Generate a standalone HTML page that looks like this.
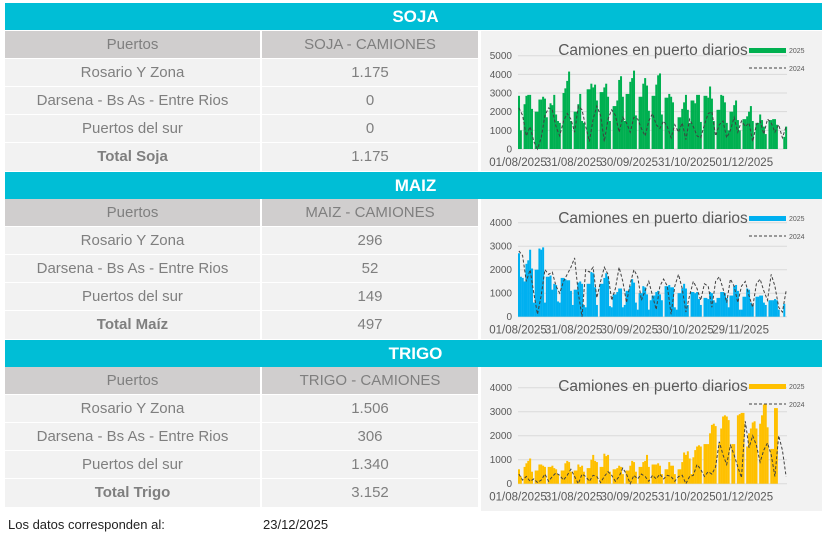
<!DOCTYPE html>
<html><head><meta charset="utf-8">
<style>
body{margin:0;width:826px;height:542px;background:#fff;position:relative;overflow:hidden;font-family:"Liberation Sans",sans-serif}
.a{position:absolute;box-sizing:border-box}
.ban{left:5px;width:817px;height:27px;background:#00bed6;color:#fff;font-weight:bold;font-size:17px;text-align:center;line-height:27px;padding-left:4px}
.cell{height:27px;line-height:27px;text-align:center;font-size:15px;color:#7f7f7f;background:#f2f2f2}
.hd{background:#d0cece}
.c1{left:5px;width:255px}.c2{left:262px;width:216px}
.b{font-weight:bold}
.chart{left:481px;width:341px;background:#f2f2f2}
</style></head><body>
<div class="a ban" style="top:3px">SOJA</div>
<div class="a ban" style="top:172px">MAIZ</div>
<div class="a ban" style="top:340px">TRIGO</div>

<div class="a cell hd c1" style="top:31px">Puertos</div>
<div class="a cell hd c2" style="top:31px">SOJA - CAMIONES</div>
<div class="a cell c1" style="top:59px">Rosario Y Zona</div>
<div class="a cell c2" style="top:59px">1.175</div>
<div class="a cell c1" style="top:87px">Darsena - Bs As - Entre Rios</div>
<div class="a cell c2" style="top:87px">0</div>
<div class="a cell c1" style="top:115px">Puertos del sur</div>
<div class="a cell c2" style="top:115px">0</div>
<div class="a cell c1 b" style="top:143px;height:28px">Total Soja</div>
<div class="a cell c2" style="top:143px;height:28px">1.175</div>

<div class="a cell hd c1" style="top:199px">Puertos</div>
<div class="a cell hd c2" style="top:199px">MAIZ - CAMIONES</div>
<div class="a cell c1" style="top:227px">Rosario Y Zona</div>
<div class="a cell c2" style="top:227px">296</div>
<div class="a cell c1" style="top:255px">Darsena - Bs As - Entre Rios</div>
<div class="a cell c2" style="top:255px">52</div>
<div class="a cell c1" style="top:283px">Puertos del sur</div>
<div class="a cell c2" style="top:283px">149</div>
<div class="a cell c1 b" style="top:311px;height:28px">Total Maíz</div>
<div class="a cell c2" style="top:311px;height:28px">497</div>

<div class="a cell hd c1" style="top:367px">Puertos</div>
<div class="a cell hd c2" style="top:367px">TRIGO - CAMIONES</div>
<div class="a cell c1" style="top:395px">Rosario Y Zona</div>
<div class="a cell c2" style="top:395px">1.506</div>
<div class="a cell c1" style="top:423px">Darsena - Bs As - Entre Rios</div>
<div class="a cell c2" style="top:423px">306</div>
<div class="a cell c1" style="top:451px">Puertos del sur</div>
<div class="a cell c2" style="top:451px">1.340</div>
<div class="a cell c1 b" style="top:479px;height:28px">Total Trigo</div>
<div class="a cell c2" style="top:479px;height:28px">3.152</div>

<div class="a" style="left:8px;top:517px;font-size:13px;color:#222">Los datos corresponden al:</div>
<div class="a" style="left:263px;top:517px;font-size:13px;color:#222">23/12/2025</div>

<svg class="a chart" id="ch1" style="top:31px;height:140px" viewBox="481 31 341 140"></svg>
<svg class="a chart" id="ch2" style="top:199px;height:140px" viewBox="481 199 341 140"></svg>
<svg class="a chart" id="ch3" style="top:367px;height:144px" viewBox="481 367 341 144"></svg>

<script>
const sojaLabels=["01/08/2025","31/08/2025","30/09/2025","31/10/2025","01/12/2025"];
const sojaLabelDays=[0,30,60,91,122];
const sojaTicks=[0,1000,2000,3000,4000,5000];
const soja2025=[2850,1000,0,
2400,2850,2900,2900,2150,0,2000,
2000,2650,2650,2800,2700,1700,0,
2450,2350,2900,1850,1500,1400,0,
3000,3250,3650,4150,1500,0,2000,
2000,2400,2950,1500,1400,0,3200,
3200,3500,3300,3450,2600,0,3050,
3050,3300,3500,2800,1500,0,2300,
2300,2600,3700,3900,2800,1500,2950,
2950,3600,3800,4200,1800,0,2800,
2800,3500,3800,3400,2050,0,2850,
2850,3450,3950,4050,1850,0,2750,
2750,2950,2800,2500,0,0,1700,
1700,2150,2500,2900,2100,1400,2600,
2600,2450,2900,2900,1450,0,2850,
2850,2750,3350,2700,1500,0,2100,
2100,2900,2850,2500,1400,1000,2000,
2000,2350,2600,1550,1000,0,1600,
1600,1750,2000,2300,1500,0,1400,
1400,1850,1550,1200,800,0,1550,
1550,1600,1600,1300,0,0,0,
650,1200];
const soja2024=[2200,1800,700,1200,400,0,600,1800,2200,2100,1200,700,1500,1900,1600,900,2300,2100,1200,400,1600,2300,1800,400,1600,2100,1800,900,1700,1400,900,1700,1600,1100,700,1500,1900,1300,1100,1500,1200,600,1300,900,1400,500,1600,1200,700,600,1300,1900,2000,700,1300,1500,600,1000,1700,900,1500,1200,1400,400,1300,1500,800,1600,1400,900,1300,600,1200];

const maizLabels=["01/08/2025","31/08/2025","30/09/2025","30/10/2025","29/11/2025"];
const maizLabelDays=[0,30,60,90,120];
const maizTicks=[0,1000,2000,3000,4000];
const maiz2025=[2700,1700,1650,
1500,2250,2400,2850,2050,600,2000,
2000,2900,2850,2950,600,1700,1700,
1750,1150,1400,1350,650,600,1650,
1650,1600,1550,1550,1100,500,1150,
1150,1450,1500,1400,500,400,1400,
1400,1900,1850,1250,500,0,1400,
1400,1650,1850,1700,450,400,950,
950,1050,1200,1200,400,500,1100,
1100,1300,1600,1450,600,300,1000,
1000,1300,1250,950,300,700,900,
900,1050,1100,950,700,0,1300,
1300,1350,1250,1250,400,300,1000,
1000,1200,1400,1200,500,0,1050,
1050,1000,1050,750,500,0,800,
800,750,1050,1000,700,600,800,
800,1050,1050,1000,800,400,900,
900,1300,1350,1100,300,300,850,
850,1200,1150,600,500,0,850,
850,900,900,600,500,0,700,
700,700,750,700,300,0,0,
550,0];
const maiz2024=[2800,2600,1500,2000,1000,100,900,2000,1800,1900,1300,1000,1500,1800,2100,2500,1000,0,2000,1900,2100,800,1500,2100,1800,700,1200,2100,1500,600,1400,2000,1700,700,1100,1500,900,300,1300,1600,1300,100,1300,1800,1200,200,900,1500,1200,700,1400,1300,400,1500,1700,1200,600,1600,1300,600,1300,1500,900,400,1400,1600,1100,700,1800,1300,400,200,1100];

const trigoLabels=["01/08/2025","31/08/2025","30/09/2025","31/10/2025","01/12/2025"];
const trigoLabelDays=[0,30,60,91,122];
const trigoTicks=[0,1000,2000,3000,4000];
const trigo2025=[600,300,0,
700,850,950,1050,500,0,550,
550,800,800,750,700,0,700,
700,750,650,600,400,0,550,
550,850,950,900,500,0,550,
550,800,700,750,500,0,650,
650,1000,1200,950,900,0,700,
700,1250,1150,1200,500,0,600,
600,650,750,700,400,0,550,
550,750,950,900,500,0,700,
700,900,950,1200,700,0,800,
800,800,850,750,400,0,600,
600,900,750,750,400,0,600,
600,900,1300,1200,1350,1050,400,1100,1400,1550,
1600,1550,0,1650,1650,1650,2100,2450,2500,2400,
0,1700,2300,2800,2850,2800,2650,0,1650,1650,
0,2850,2900,2950,2950,0,1550,2100,2300,2550,
2600,2300,0,2500,2850,3300,3300,2350,0,1450,
1450,3150,3150,0,0,0,0,0];
const trigo2024=[400,150,300,100,200,50,150,400,100,300,450,350,150,350,600,300,0,400,300,100,350,300,50,300,500,350,100,300,650,400,0,350,200,400,300,100,350,200,400,200,350,300,100,300,350,0,300,350,800,600,300,500,400,700,1750,1200,800,1600,1200,700,250,2600,1500,2000,1600,900,1400,1700,1200,300,2000,1400,300];

const NS='http://www.w3.org/2000/svg';
function mk(svg,tag,attrs){const e=document.createElementNS(NS,tag);for(const k in attrs)e.setAttribute(k,attrs[k]);svg.appendChild(e);return e;}
function draw(id,prefix,v25,v24,ticks,labels,labelDays,color,yZero,yTop,top){
  const svg=document.getElementById(id);
  const N=145,x0=518,x1=787,dw=(x1-x0)/N,ymax=ticks[ticks.length-1];
  const X=d=>x0+d*dw;
  const Y=v=>yZero-(v/ymax)*(yZero-yTop);
  ticks.forEach(t=>{
    const g=mk(svg,'line',{x1:x0,x2:x1,y1:Y(t),y2:Y(t),stroke:'#d9d9d9','stroke-width':1});
    
    
    const tl=mk(svg,'text',{x:512,y:Y(t)+3.5,'text-anchor':'end','font-size':10,fill:'#595959','font-family':'Liberation Sans, sans-serif'});
    tl.textContent=t;
    
    
  });
  v25.forEach((v,i)=>{
    if(v<=0)return;
    const r=mk(svg,'rect',{x:X(i),y:Y(v),width:dw+0.15,height:yZero-Y(v),fill:color});
    
    
  });
  const pts=v24.map((v,i)=>X(i*2+0.5).toFixed(1)+','+Y(v).toFixed(1)).join(' ');
  const pl=mk(svg,'polyline',{points:pts,fill:'none',stroke:'#404040','stroke-width':1,'stroke-dasharray':'3,2'});
  
  
  labels.forEach((l,i)=>{
    const t=mk(svg,'text',{x:X(labelDays[i]),y:yZero+17,'text-anchor':'middle','font-size':11.5,fill:'#595959','font-family':'Liberation Sans, sans-serif'});
    t.textContent=l;
    
    
  });
  const ti=mk(svg,'text',{x:653,y:top+24,'text-anchor':'middle','font-size':15.5,fill:'#595959','font-family':'Liberation Sans, sans-serif'});
  ti.textContent='Camiones en puerto diarios';
  
  
  const sw=mk(svg,'rect',{x:749,y:top+17,width:37,height:5,fill:color});
  
  
  const l1=mk(svg,'text',{x:789,y:top+22,'font-size':7,fill:'#595959','font-family':'Liberation Sans, sans-serif'});
  l1.textContent='2025';
  
  
  const dl=mk(svg,'line',{x1:749,x2:786,y1:top+37,y2:top+37,stroke:'#404040','stroke-width':1,'stroke-dasharray':'3,2'});
  
  
  const l2=mk(svg,'text',{x:789,y:top+40,'font-size':7,fill:'#595959','font-family':'Liberation Sans, sans-serif'});
  l2.textContent='2024';
  
  
}
draw('ch1','soja',soja2025,soja2024,sojaTicks,sojaLabels,sojaLabelDays,'#00b050',149,55.7,31);
draw('ch2','maiz',maiz2025,maiz2024,maizTicks,maizLabels,maizLabelDays,'#00b0f0',316.7,222.7,199);
draw('ch3','trigo',trigo2025,trigo2024,trigoTicks,trigoLabels,trigoLabelDays,'#ffc000',483.7,387.7,367);
</script>
</body></html>
